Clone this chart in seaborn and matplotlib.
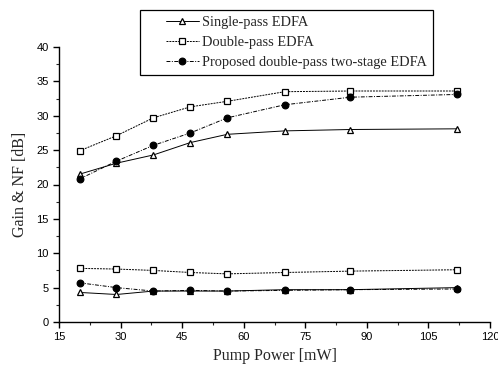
import matplotlib
matplotlib.use("Agg")
import matplotlib.pyplot as plt
import seaborn as sns
import pandas as pd
from matplotlib.ticker import MultipleLocator
from matplotlib.legend_handler import HandlerLine2D
from matplotlib.lines import Line2D

pump = [20, 29, 38, 47, 56, 70, 86, 112]
series_names = ["Single-pass EDFA", "Double-pass EDFA", "Proposed double-pass two-stage EDFA"]
gain_single = [21.5, 23.1, 24.3, 26.1, 27.3, 27.8, 28.0, 28.1]
gain_double = [24.9, 27.1, 29.7, 31.3, 32.1, 33.5, 33.6, 33.6]
gain_proposed = [20.8, 23.4, 25.7, 27.5, 29.7, 31.6, 32.7, 33.1]
nf_single = [4.3, 4.0, 4.5, 4.5, 4.5, 4.7, 4.7, 5.0]
nf_double = [7.8, 7.7, 7.5, 7.2, 7.0, 7.2, 7.4, 7.6]
nf_proposed = [5.7, 5.0, 4.5, 4.6, 4.5, 4.6, 4.7, 4.8]

sns.set_style("ticks")
plt.rcParams["font.family"] = ["Liberation Sans", "DejaVu Sans"]

fig = plt.figure(figsize=(4.98, 3.69), dpi=100)
ax = fig.add_axes([0.1185, 0.1274, 0.8655, 0.7452])

styles = [
    dict(marker="^", markerfacecolor="white", linestyle="-"),
    dict(marker="s", markerfacecolor="white", linestyle=(0, (2, 1))),
    dict(marker="o", markerfacecolor="black", linestyle=(0, (4, 1.5, 1, 1.5))),
]
gains = [gain_single, gain_double, gain_proposed]
nfs = [nf_single, nf_double, nf_proposed]

for name, g, n, st in zip(series_names, gains, nfs, styles):
    df_g = pd.DataFrame({"pump": pump, "val": g})
    df_n = pd.DataFrame({"pump": pump, "val": n})
    for df, lab in ((df_g, name), (df_n, "_nolegend_")):
        sns.lineplot(data=df, x="pump", y="val", ax=ax, color="black",
                     linewidth=0.7, markersize=4.8, markeredgecolor="black",
                     markeredgewidth=0.9, label=lab, legend=False,
                     marker=st["marker"], markerfacecolor=st["markerfacecolor"],
                     linestyle=st["linestyle"])

ax.set_xlim(15, 120)
ax.set_ylim(0, 40)
ax.xaxis.set_major_locator(MultipleLocator(15))
ax.xaxis.set_minor_locator(MultipleLocator(7.5))
ax.yaxis.set_major_locator(MultipleLocator(5))
ax.yaxis.set_minor_locator(MultipleLocator(2.5))
ax.tick_params(which="major", direction="out", length=4, width=1.0, labelsize=8, colors="black")
ax.tick_params(which="minor", direction="out", length=2.5, width=0.8)
sns.despine(ax=ax)
for sp in ("left", "bottom"):
    ax.spines[sp].set_linewidth(1.0)
    ax.spines[sp].set_color("black")

ax.set_xlabel("Pump Power [mW]", fontfamily="Liberation Serif", fontsize=11.5, labelpad=4)
ax.set_ylabel("Gain & NF [dB]", fontfamily="Liberation Serif", fontsize=11.5, labelpad=6)

handles, labels = ax.get_legend_handles_labels()
leg = ax.legend(handles, labels, loc="upper left", bbox_to_anchor=(0.188, 1.135),
                frameon=True, fancybox=False, edgecolor="black", framealpha=1,
                prop={"family": "Liberation Serif", "size": 10.4},
                handlelength=3.7, handletextpad=0.2, labelspacing=0.5,
                borderpad=0.4, borderaxespad=0,
                handler_map={Line2D: HandlerLine2D(xpad=1.37)})
leg.get_frame().set_linewidth(0.9)
leg.set_clip_on(False)

fig.savefig("out.png", dpi=100)
